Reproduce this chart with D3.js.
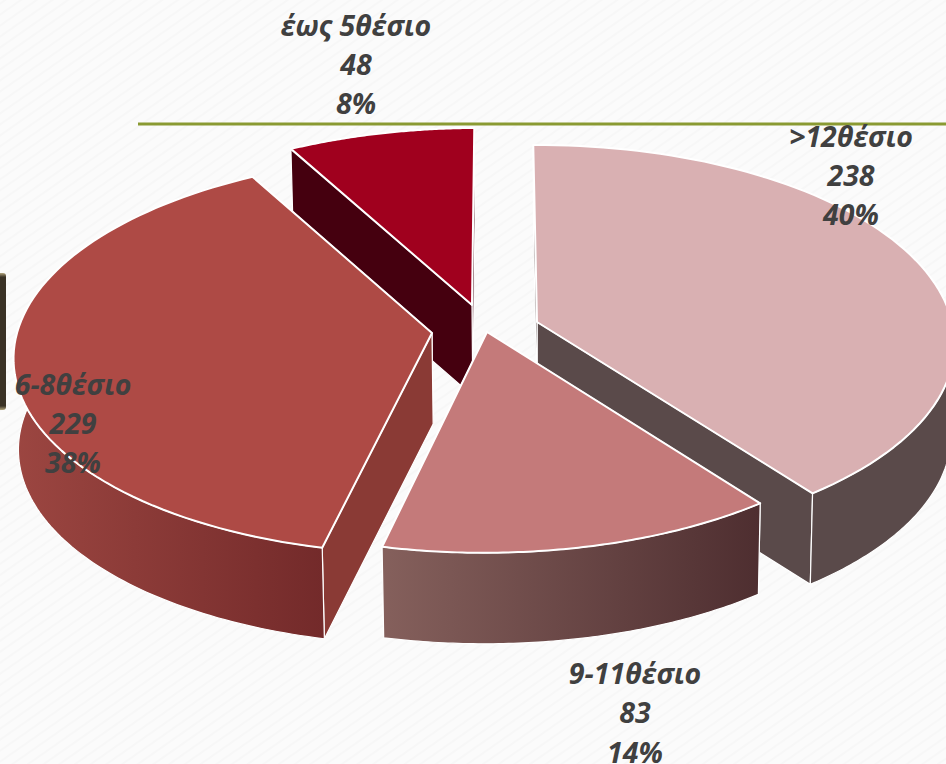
<!DOCTYPE html>
<html>
<head>
<meta charset="utf-8">
<script src="https://cdn.jsdelivr.net/npm/d3@7"></script>
<style>
  html, body { margin: 0; padding: 0; background: #fbfbfb; overflow: hidden; }
  text { font-family: "Open Sans", sans-serif; font-weight: 700; font-style: italic; fill: #404040; }
</style>
</head>
<body>
<div id="chart"></div>
<script>
// data
const categories = [">12θέσιο", "9-11θέσιο", "6-8θέσιο", "έως 5θέσιο"];
const values = [238, 83, 229, 48];

// top face, side wall colours
const topColors = ["#d9b0b2", "#c47a7a", "#ae4a45", "#a0001e"];
const wallStart = ["#5a4a4a", "#85605c", "#9c4641", "#45000f"];
const wallEnd = ["#5a4a4a", "#4e2e30", "#732a2a", "#45000f"];
const edgeWall = ["#5a4a4a", "#4e2e30", "#8a3a35", "#45000f"];

const width = 946, height = 764;

// layout of the fake 3d pie
const center = { x: 485, y: 318 };
const pull = [[52, 4], [2, 14], [-53, 15], [-13, -13]]; // explosion of each slice
const skew = [0, 3, 8, 6]; // small sideways lean of each slice
const perspective = 0.11;
const depth = 91;
const vanishX = 560;
const labelPos = [[851, 146.5], [635, 684], [73, 394.5], [356, 35.5]];
const lineGap = 39.3;
const paintOrder = [3, 0, 2, 1];

const svg = d3.select("#chart").append("svg")
    .attr("width", width)
    .attr("height", height)
    .style("display", "block");

const defs = svg.append("defs");

// light paper texture of the slide
const hatch = defs.append("pattern")
    .attr("id", "paper")
    .attr("width", 9)
    .attr("height", 9)
    .attr("patternUnits", "userSpaceOnUse")
    .attr("patternTransform", "rotate(-35)");
hatch.append("rect").attr("width", 9).attr("height", 9).attr("fill", "#fbfbfb");
hatch.append("line").attr("x1", 0).attr("x2", 9).attr("y1", 3).attr("y2", 3)
    .attr("stroke", "#f7f7f7").attr("stroke-width", 2);

svg.append("rect").attr("width", width).attr("height", height).attr("fill", "url(#paper)");

// dark tab on the left edge
const tabGrad = defs.append("linearGradient")
    .attr("id", "tab").attr("x1", 0).attr("x2", 0).attr("y1", 0).attr("y2", 1);
[[0, "#b3a67e"], [0.03, "#3a3226"], [0.97, "#3a3226"], [1, "#b3a67e"]].forEach(s => {
    tabGrad.append("stop").attr("offset", s[0]).attr("stop-color", s[1]);
});
svg.append("rect")
    .attr("x", -6).attr("y", 273).attr("width", 12).attr("height", 137).attr("rx", 3)
    .attr("fill", "url(#tab)");

// green rule
svg.append("line")
    .attr("x1", 138).attr("x2", width).attr("y1", 124).attr("y2", 124)
    .attr("stroke", "#8a9a32").attr("stroke-width", 3);

const x = d3.scaleLinear().domain([-1, 1]).range([-415, 415]);
const y = d3.scaleLinear().domain([-1, 1]).range([-196.5, 196.5]);

const pie = d3.pie().sort(null).startAngle(-0.01).endAngle(2 * Math.PI - 0.01);
const arcs = pie(values);

function project(i, angle, radius, bottom) {
    const u = radius * Math.sin(angle), v = -radius * Math.cos(angle);
    const w = 1 - perspective * v;
    let px = center.x + pull[i][0] + x(u) / w - skew[i] * v;
    let py = center.y + pull[i][1] + y(v) / w;
    if (bottom) {
        px += (vanishX - px) * 0.009;
        py += depth;
    }
    return [px, py];
}

const line = d3.line().curve(d3.curveLinear);

function rim(i, a0, a1, bottom) {
    const n = 80;
    return d3.range(n + 1).map(k => project(i, a0 + (a1 - a0) * k / n, 1, bottom));
}

paintOrder.forEach(i => {
    const d = arcs[i];
    const g = svg.append("g");

    const grad = defs.append("linearGradient")
        .attr("id", "wall" + i);
    grad.append("stop").attr("offset", "0%").attr("stop-color", wallStart[i]);
    grad.append("stop").attr("offset", "100%").attr("stop-color", wallEnd[i]);

    // radial walls
    [d.endAngle, d.startAngle].forEach(a => {
        const quad = [
            project(i, a, 0, false), project(i, a, 1, false),
            project(i, a, 1, true), project(i, a, 0, true)
        ];
        g.append("path")
            .attr("d", line(quad) + "Z")
            .attr("fill", edgeWall[i])
            .attr("stroke", "#fff").attr("stroke-width", 1.2);
    });

    // outer wall, only the part facing the viewer
    const a0 = Math.max(d.startAngle, Math.PI / 2);
    const a1 = Math.min(d.endAngle, 1.5 * Math.PI + 0.1);
    if (a1 > a0) {
        const outer = rim(i, a0, a1, false).concat(rim(i, a1, a0, true));
        g.append("path")
            .attr("d", line(outer) + "Z")
            .attr("fill", "url(#wall" + i + ")")
            .attr("stroke", "#fff").attr("stroke-width", 1.2);
    }

    // top face
    const top = [project(i, 0, 0, false)].concat(rim(i, d.startAngle, d.endAngle, false));
    g.append("path")
        .attr("d", line(top) + "Z")
        .attr("fill", topColors[i])
        .attr("stroke", "#fff").attr("stroke-width", 2)
        .attr("stroke-linejoin", "round");
});

// labels
const total = d3.sum(values);
const percent = d3.format(".0%");
categories.forEach((name, i) => {
    const lines = [name, values[i], percent(values[i] / total)];
    svg.append("g").selectAll("text")
        .data(lines)
        .join("text")
        .attr("x", labelPos[i][0])
        .attr("y", (t, k) => labelPos[i][1] + k * lineGap)
        .attr("text-anchor", "middle")
        .attr("font-size", 28.5)
        .text(t => t);
});
</script>
</body>
</html>
